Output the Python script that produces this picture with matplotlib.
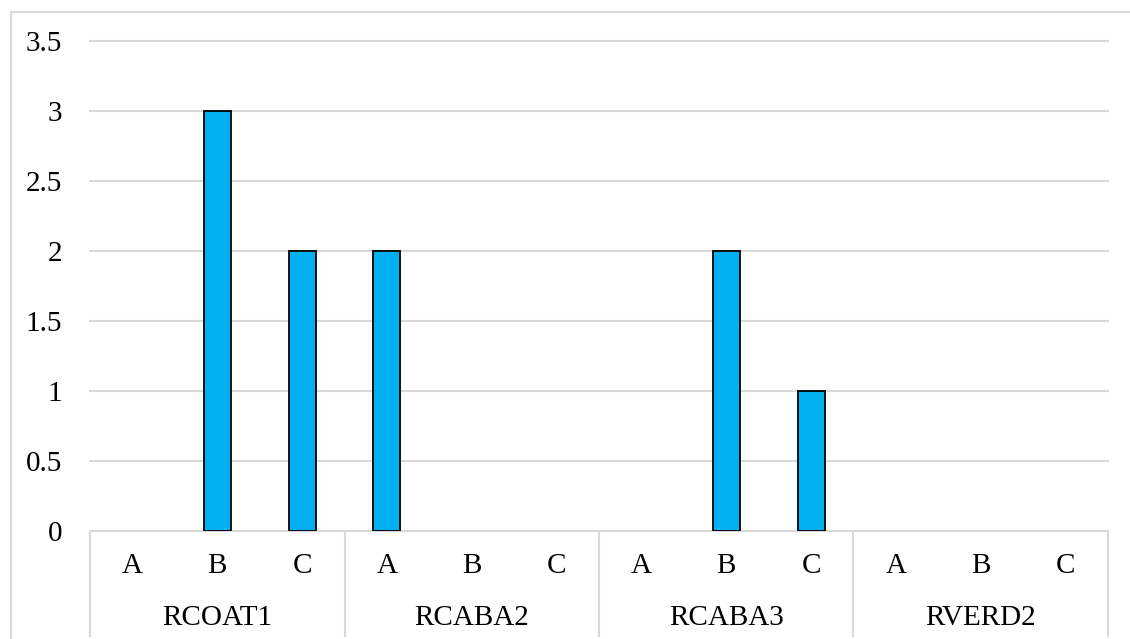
import matplotlib
matplotlib.use("Agg")
import matplotlib.pyplot as plt
from matplotlib.transforms import blended_transform_factory
from matplotlib.lines import Line2D

groups = ["RCOAT1", "RCABA2", "RCABA3", "RVERD2"]
subcats = ["A", "B", "C"]
values = [0, 3, 2, 2, 0, 0, 0, 2, 1, 0, 0, 0]
yticks = [0, 0.5, 1, 1.5, 2, 2.5, 3, 3.5]
ytick_labels = ["0", "0.5", "1", "1.5", "2", "2.5", "3", "3.5"]

W, H = 1130, 639
fig = plt.figure(figsize=(W / 100, H / 100), dpi=100)
fig.patch.set_facecolor("white")

GRID = "#d9d9d9"
FS = 21
FONT = "Liberation Serif"

# outer chart border
fig.add_artist(Line2D([11 / W, 11 / W], [0, 1 - 12 / H], color=GRID, lw=1.5))
fig.add_artist(Line2D([11 / W, 1], [1 - 12 / H, 1 - 12 / H], color=GRID, lw=1.5))

left, right = 90 / W, 1108 / W
bottom, top = 1 - 531 / H, 1 - 41 / H
ax = fig.add_axes([left, bottom, right - left, top - bottom])

n = len(values)
x = list(range(n))
lws = [1.3 if v != 0 else 0 for v in values]
ax.bar(x, values, width=0.32, color="#00b0f0", edgecolor="black", linewidth=lws, zorder=3)

ax.set_xlim(-0.5, n - 0.5)
ax.set_ylim(0, 3.5)
ax.set_yticks(yticks)
ax.set_yticklabels(ytick_labels, family=FONT, fontsize=FS)
ax.tick_params(axis="y", length=0, pad=20)
ax.set_xticks([])
for s in ax.spines.values():
    s.set_visible(False)

# gridlines (including the one at the top edge, unclipped)
for yv in yticks[1:]:
    ax.axhline(yv, color=GRID, lw=1.5, zorder=0, clip_on=False)
# bottom axis line
ax.axhline(0, color=GRID, lw=1.5, zorder=2, clip_on=False)

trans = blended_transform_factory(ax.transData, ax.transAxes)
ybot = -(636 - 531) / (531 - 41)
for g in range(len(groups) + 1):
    xb = g * len(subcats) - 0.5
    ax.add_line(Line2D([xb, xb], [0, ybot], transform=trans, color=GRID, lw=1.5, clip_on=False))

ysub = -(566 - 531) / (531 - 41)
ygrp = -(618 - 531) / (531 - 41)
for i in range(n):
    ax.text(i, ysub, subcats[i % len(subcats)], transform=trans, ha="center", va="center",
            family=FONT, fontsize=FS)
for g, name in enumerate(groups):
    xc = g * len(subcats) + (len(subcats) - 1) / 2
    ax.text(xc, ygrp, name, transform=trans, ha="center", va="center",
            family=FONT, fontsize=FS)

fig.savefig("out.png", dpi=100)
